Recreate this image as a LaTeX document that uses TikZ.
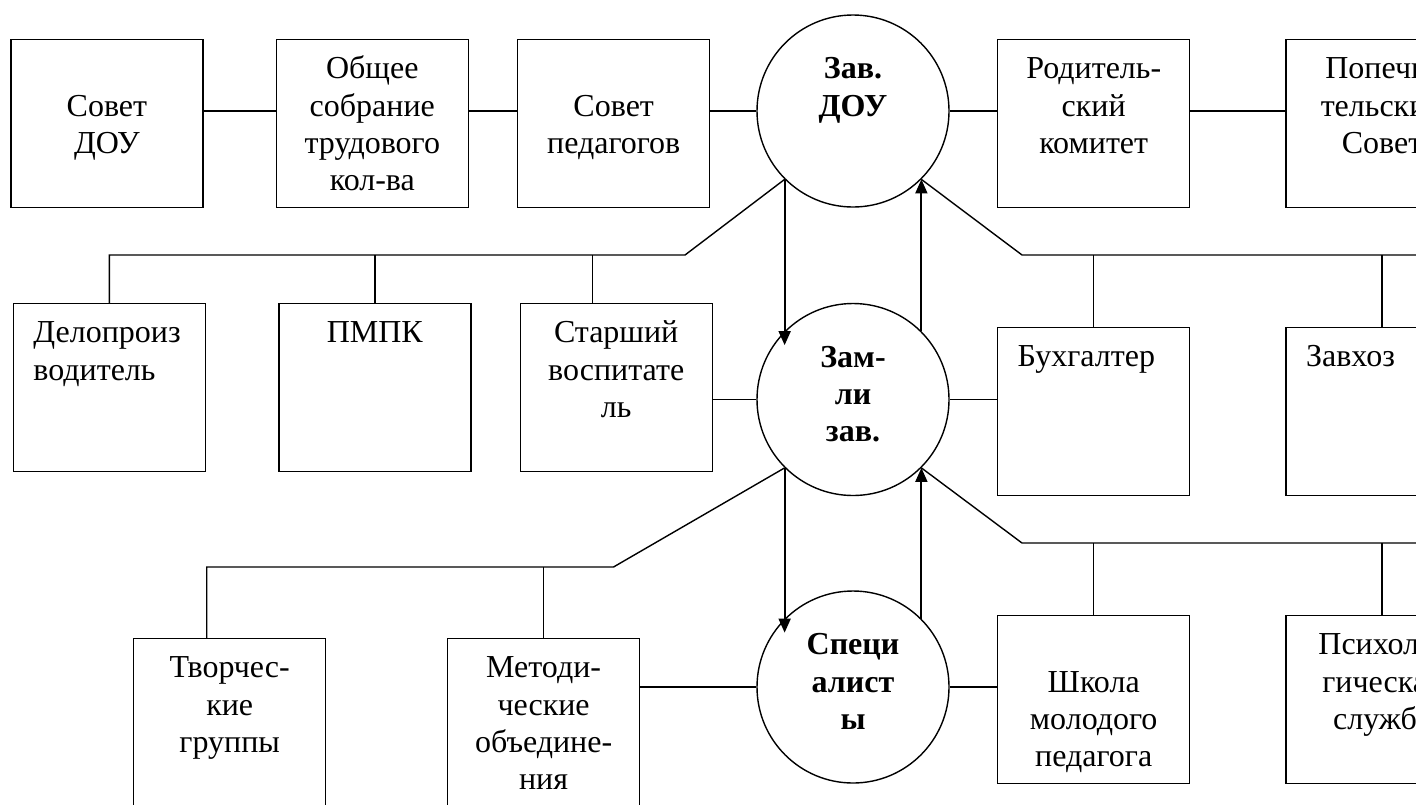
\documentclass[tikz,border=0pt]{standalone}
\usepackage{fontspec}
\setmainfont{Liberation Serif}
\usepackage{tikz}
\usetikzlibrary{arrows.meta,positioning}

\newcommand{\boxfont}{\fontsize{16}{18.65}\selectfont}

\begin{document}
\begin{tikzpicture}[
    x=0.5pt, y=-0.5pt,
    frame/.style={draw, line width=0.7pt, minimum width=96pt, minimum height=84pt, inner sep=0pt},
    boxtext/.style={anchor=north, yshift=-6.6pt, inner sep=0pt, text width=76pt, align=center, font=\boxfont, execute at begin node=\strut},
    unit/.style={frame, label={[boxtext]north:#1}},
    lunit/.style={frame, label={[boxtext, align=left]north:#1}},
    head/.style={draw, circle, line width=0.7pt, minimum size=96pt, inner sep=0pt, align=center, font=\boxfont\bfseries, execute at begin node=\strut, execute at end node=\strut},
    link/.style={line width=0.7pt},
    arr/.style={-{Triangle[length=7pt, width=6pt]}, line width=0.9pt}
]
    \useasboundingbox (0,0) rectangle (1416,804);
    \clip (0,0) rectangle (1416,804);

    % the three levels of management
    \node[head] (zav) at (853,111) {Зав.\\ДОУ\\};
    \node[head] (zam) at (853,399.5) {Зам-\\ли\\зав.};
    \node[head] (spec) at (853,687) {Специ\\алист\\ы};

    % top row
    \node[unit={\\Совет\\педагогов}, anchor=north west] (sovped) at (517,39) {};
    \node[unit={Общее\\собрание\\трудового\\кол-ва}, left=24pt of sovped] (obsch) {};
    \node[unit={\\Совет\\ДОУ}, left=36pt of obsch] (sovdou) {};
    \node[unit={Родитель-\\ский\\комитет}, anchor=north west] (rodkom) at (997,39) {};
    \node[unit={Попечи-\\тельский\\Совет}, right=47.5pt of rodkom] (popech) {};

    % middle row
    \node[lunit={Делопроиз\\водитель}, anchor=north west] (delop) at (12.7,303) {};
    \node[unit={ПМПК}, right=36pt of delop] (pmpk) {};
    \node[unit={Старший\\воспитате\\ль}, right=24pt of pmpk] (starsh) {};
    \node[lunit={Бухгалтер}, anchor=north west] (buh) at (997,327) {};
    \node[lunit={Завхоз}, right=47.5pt of buh] (zavhoz) {};

    % bottom row
    \node[unit={Творчес-\\кие\\группы}, anchor=north west] (tvorch) at (133,638) {};
    \node[unit={Методи-\\ческие\\объедине-\\ния}, right=60.25pt of tvorch] (metod) {};
    \node[unit={\\Школа\\молодого\\педагога}, anchor=north west] (shkola) at (997,615) {};
    \node[unit={Психоло-\\гическая\\служба}, right=47.5pt of shkola] (psych) {};

    % horizontal links at the height of each circle
    \draw[link] (sovdou.east |- zav) -- (obsch.west |- zav);
    \draw[link] (obsch.east |- zav) -- (sovped.west |- zav);
    \draw[link] (sovped.east |- zav) -- (zav.west);
    \draw[link] (zav.east) -- (rodkom.west |- zav);
    \draw[link] (rodkom.east |- zav) -- (popech.west |- zav);
    \draw[link] (starsh.east |- zam) -- (zam.west);
    \draw[link] (zam.east) -- (buh.west |- zam);
    \draw[link] (metod.east |- spec) -- (spec.west);
    \draw[link] (spec.east) -- (shkola.west |- spec);

    % branches below Zav. DOU
    \coordinate (topL) at (685,255);
    \coordinate (topR) at (1022,255);
    \coordinate (topEnd) at (1440,255);
    \coordinate (stTap) at ([xshift=-11.75pt]starsh.north);
    \draw[link] (zav.225) -- (topL) -- (delop.north |- topL) -- (delop.north);
    \draw[link] (pmpk.north |- topL) -- (pmpk.north);
    \draw[link] (stTap |- topL) -- (stTap);
    \draw[link] (zav.315) -- (topR) -- (topEnd);
    \draw[link] (buh.north |- topR) -- (buh.north);
    \draw[link] (zavhoz.north |- topR) -- (zavhoz.north);

    % branches below the deputies
    \coordinate (midL) at (613.5,567);
    \coordinate (midR) at (1022,543);
    \coordinate (midEnd) at (1440,543);
    \coordinate (tvTap) at ([xshift=-11.5pt]tvorch.north);
    \draw[link] (zam.225) -- (midL) -- (tvTap |- midL) -- (tvTap);
    \draw[link] (metod.north |- midL) -- (metod.north);
    \draw[link] (zam.315) -- (midR) -- (midEnd);
    \draw[link] (shkola.north |- midR) -- (shkola.north);
    \draw[link] (psych.north |- midR) -- (psych.north);

    % down and up between the circles
    \draw[arr, shorten >=-7pt] (zav.225) -- (zav.225 |- zam.135);
    \draw[arr] (zam.45) -- (zam.45 |- zav.315);
    \draw[arr, shorten >=-7pt] (zam.225) -- (zam.225 |- spec.135);
    \draw[arr] (spec.45) -- (spec.45 |- zam.315);
\end{tikzpicture}
\end{document}
